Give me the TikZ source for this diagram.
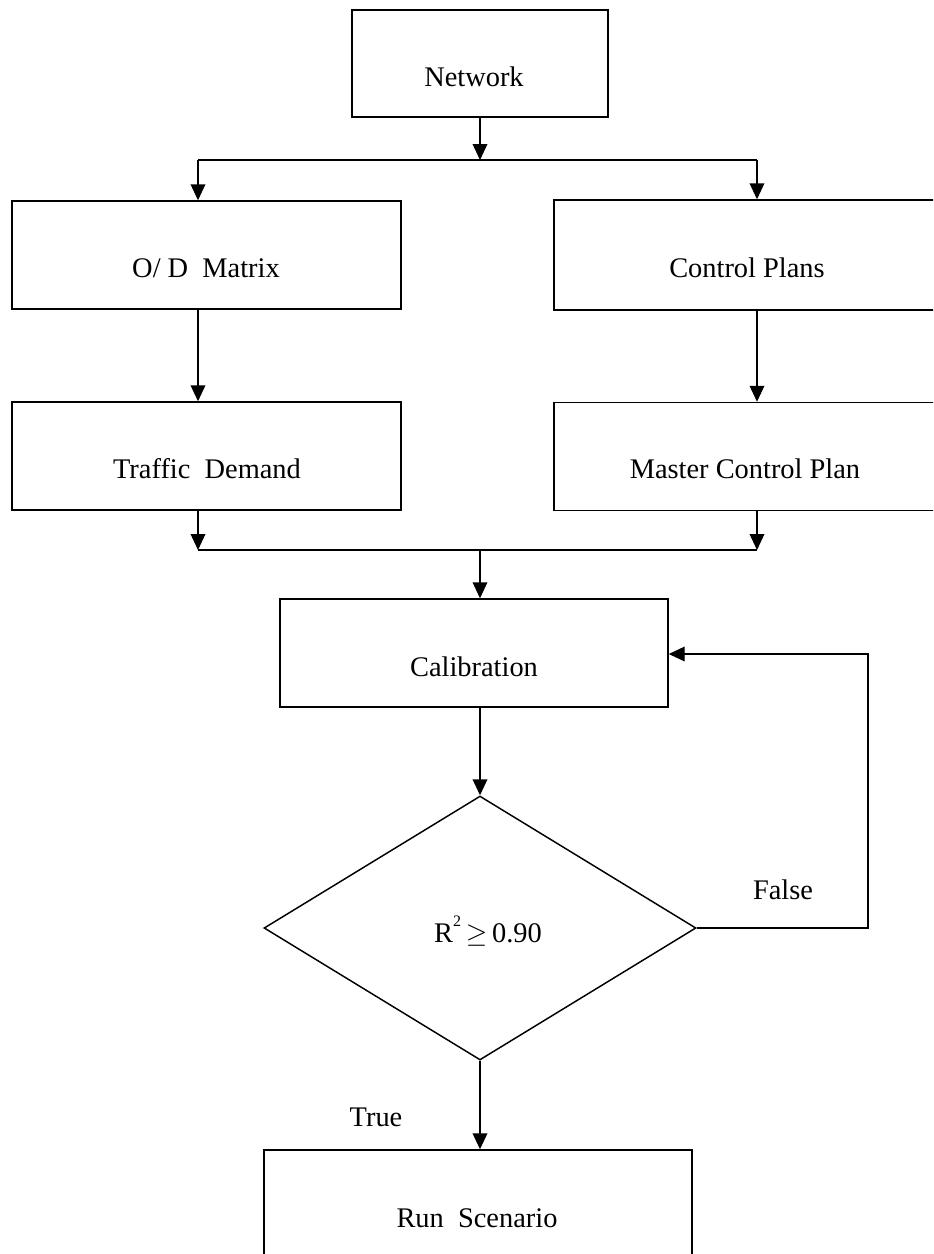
\documentclass[tikz,border=0pt]{standalone}
\usepackage{fontspec}
\setmainfont{Liberation Serif}
\usetikzlibrary{arrows.meta,shapes.geometric}
\begin{document}
\begin{tikzpicture}[x=0.75pt,y=-0.75pt,
  every node/.style={font=\fontsize{21.3}{25}\selectfont},
  box/.style={draw,line width=1.1pt,inner sep=0pt},
  lbl/.style={anchor=base,inner sep=0pt},
  line/.style={line width=1.1pt},
  arr/.style={line width=1.1pt,-{Triangle[length=12pt,width=11pt]}}]
\useasboundingbox (0,0) rectangle (933,1254);
\fill[white] (0,0) rectangle (933,1254);
\clip (0,0) rectangle (933,1254);
% boxes
\node[box,minimum width=192pt,minimum height=80.25pt] (net) at (480,63.5) {};
\node[box,minimum width=291.75pt,minimum height=81pt] (od) at (206.5,255) {};
\node[box,minimum width=291.75pt,minimum height=82.5pt] (cp) at (748.5,255) {};
\node[box,minimum width=291.75pt,minimum height=81pt] (td) at (206.5,456) {};
\node[box,minimum width=291.75pt,minimum height=81pt] (mcp) at (748.5,456.5) {};
\node[box,minimum width=291pt,minimum height=81pt] (cal) at (474,653) {};
\node[box,diamond,minimum width=324pt,minimum height=198pt] (dia) at (480,928) {};
\node[box,minimum width=321pt,minimum height=82.5pt] (run) at (478,1205) {};
% labels
\node[lbl] (tnet) at (474,86) {Network};
\node[lbl] (tod) at (206,277) {O/ D\ \ Matrix};
\node[lbl] (tcp) at (747,277) {Control Plans};
\node[lbl] (ttd) at (207,478) {Traffic\ \ Demand};
\node[lbl] (tmcp) at (745,478) {Master Control Plan};
\node[lbl] (tcal) at (474,676) {Calibration};
\node[lbl] (tdia) at (488,942) {R\raisebox{0.55em}{\fontsize{12}{14}\selectfont 2}\,$\geq$\,0.90};
\node[lbl] (tfalse) at (783,899) {False};
\node[lbl] (ttrue) at (376,1126) {True};
\node[lbl] (trun) at (477,1227) {Run\ \ Scenario};
% junctions
\coordinate (j1) at (480,160);
\coordinate (jL) at (198,160);
\coordinate (jR) at (757,160);
\coordinate (j2) at (480,550);
\coordinate (j2L) at (198,550);
\coordinate (j2R) at (757,550);
\coordinate (fb) at (868,654);
% connectors
\draw[arr] (net.south) -- (j1);
\draw[line] (jL) -- (jR);
\draw[arr] (jL) -- (jL |- od.north);
\draw[arr] (jR) -- (jR |- cp.north);
\draw[arr] (od.south -| jL) -- (td.north -| jL);
\draw[arr] (cp.south -| jR) -- (mcp.north -| jR);
\draw[arr] (td.south -| j2L) -- (j2L);
\draw[arr] (mcp.south -| j2R) -- (j2R);
\draw[line] (j2L) -- (j2R);
\draw[arr] (j2) -- (j2 |- cal.north);
\draw[arr] (cal.south -| dia.north) -- (dia.north);
\draw[arr] (dia.south) -- (run.north -| dia.south);
\draw[arr] (dia.east) -| (fb) -- (cal.east |- fb);
\end{tikzpicture}
\end{document}
